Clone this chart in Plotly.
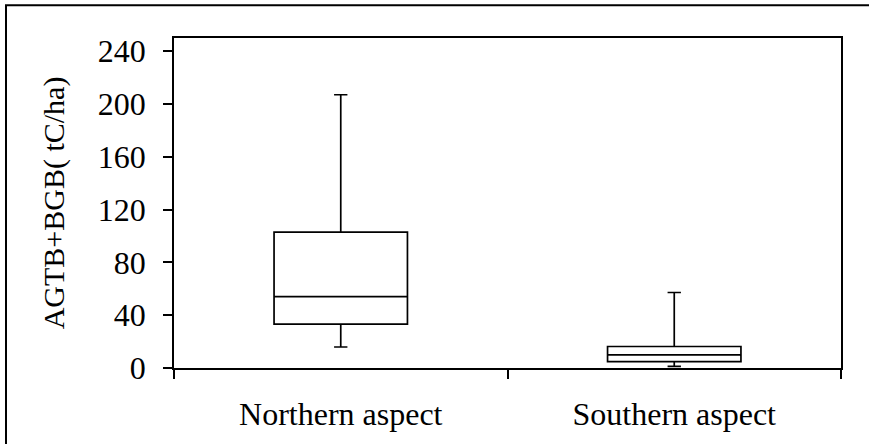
import plotly.graph_objects as go

categories = ["Northern aspect", "Southern aspect"]
q1_vals = [33.2, 4.8]
median_vals = [54.1, 10.0]
q3_vals = [103.0, 16.3]
lower_whisker = [15.9, 1.2]
upper_whisker = [207.0, 57.2]
y_ticks = [0, 40, 80, 120, 160, 200, 240]

FONT = "Liberation Serif, Times New Roman, serif"

fig = go.Figure()
fig.add_trace(go.Box(
    x=categories,
    q1=q1_vals,
    median=median_vals,
    q3=q3_vals,
    lowerfence=lower_whisker,
    upperfence=upper_whisker,
    width=0.4,
    whiskerwidth=0.1,
    fillcolor="white",
    line=dict(color="black", width=1.7),
    boxpoints=False,
    showlegend=False,
    hoverinfo="skip",
))

fig.update_layout(
    width=869, height=444,
    margin=dict(l=174, r=28, t=38, b=76),
    paper_bgcolor="white",
    plot_bgcolor="white",
    font=dict(family=FONT, size=32, color="black"),
    xaxis=dict(
        type="category",
        tickson="boundaries",
        ticks="outside", ticklen=9, tickwidth=1.5, tickcolor="black",
        showline=True, linecolor="black", linewidth=1.8, mirror=True,
        showgrid=False, zeroline=False,
        ticklabelstandoff=17,
        tickfont=dict(family=FONT, size=32, color="black"),
        range=[-0.5, 1.5],
        automargin=False,
    ),
    yaxis=dict(
        range=[0, 250],
        tickvals=y_ticks,
        ticktext=[str(v) for v in y_ticks],
        ticks="outside", ticklen=9, tickwidth=1.5, tickcolor="black",
        showline=True, linecolor="black", linewidth=1.8, mirror=True,
        showgrid=False, zeroline=False,
        ticklabelstandoff=11,
        tickfont=dict(family=FONT, size=32, color="black"),
        title=dict(text="AGTB+BGB( tC/ha)", font=dict(family=FONT, size=30, color="black"), standoff=24),
        automargin=False,
    ),
    shapes=[dict(
        type="rect", xref="paper", yref="paper",
        x0=(6 - 174) / 667, x1=1.06, y0=-0.25, y1=(368 - 5) / 330.3,
        line=dict(color="black", width=2), fillcolor="rgba(0,0,0,0)",
        layer="above",
    )],
)

fig.write_html("out.html", config={"displayModeBar": False},
               post_script="document.body.style.margin='0';")
